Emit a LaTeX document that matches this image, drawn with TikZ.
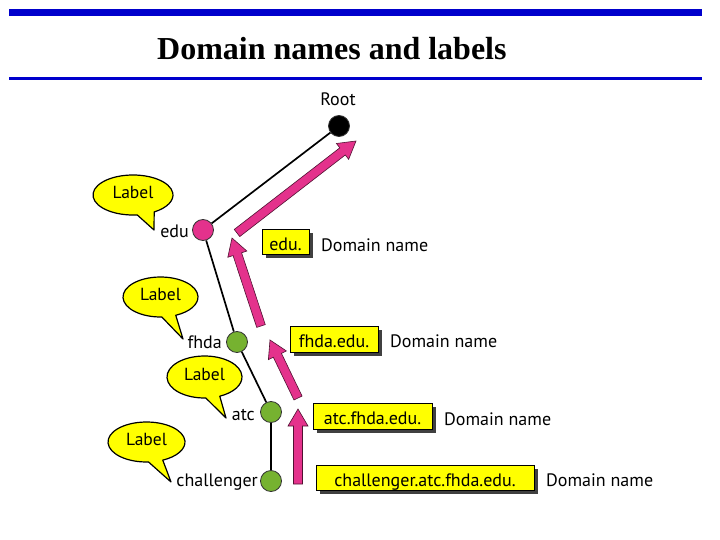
\documentclass[tikz,border=0pt]{standalone}
\usepackage{fontspec}
\setmainfont{Liberation Serif}
\newfontfamily\diagfont{PT Sans}
\usetikzlibrary{calc,shadows}
\definecolor{pinkc}{RGB}{228,50,140}
\definecolor{greenc}{RGB}{118,178,48}
\definecolor{yellowc}{RGB}{255,255,0}
\definecolor{bluebar}{RGB}{0,0,204}
\newcommand\blockarrow[2]{%
  \coordinate (hb) at ($(#2)!17pt!(#1)$);
  \fill[pinkc, draw=black!65!pinkc, line width=0.6pt, line join=miter]
    ($(#1)!4.5pt!90:(#2)$) -- ($(hb)!4.5pt!90:(#2)$) -- ($(hb)!10pt!90:(#2)$) -- (#2)
    -- ($(hb)!10pt!-90:(#2)$) -- ($(hb)!4.5pt!-90:(#2)$) -- ($(#1)!4.5pt!-90:(#2)$) -- cycle;}
\newcommand\labelcallout[7]{%
  \draw[calloutshape] ($#2+(#5:#3 and #4)$) arc[start angle=#5, end angle=#6+360, x radius=#3, y radius=#4] -- #7 -- cycle;
  \node[labeltext] (#1) at ($#2+(0,-3)$) {Label};}
\begin{document}
\begin{tikzpicture}[x=1pt,y=-1pt,
  dot/.style={circle, draw=black!80, line width=0.8pt, minimum size=21pt, inner sep=0pt},
  treeline/.style={black, line width=1.7pt},
  nm/.style={inner sep=0pt, font=\diagfont\fontsize{18}{20}\selectfont},
  boxst/.style={draw=black, fill=yellowc, line width=0.8pt, inner sep=0pt,
    text height=17pt, text depth=0pt,
    font=\diagfont\fontsize{18}{20}\selectfont,
    drop shadow={shadow xshift=3.5pt, shadow yshift=-3.5pt, fill=black!75, opacity=1}},
  calloutshape/.style={draw=black, fill=yellowc, line width=1.2pt, line join=round},
  labeltext/.style={inner sep=0pt, font=\diagfont\fontsize{17.5}{19}\selectfont}]
\useasboundingbox (0,0) rectangle (720,540);
\fill[white] (0,0) rectangle (720,540);
% header
\fill[bluebar] (9,9.3) rectangle (702,15.7);
\fill[bluebar] (9,76.7) rectangle (702,80);
\node[anchor=base west, inner sep=0pt, font=\bfseries\fontsize{32}{36}\selectfont] (title) at (157,60) {Domain names and labels};
% tree nodes
\node[dot, fill=black] (root) at (339,126) {};
\node[dot, fill=pinkc] (edu) at (203,230) {};
\node[dot, fill=greenc] (fhda) at (237,342) {};
\node[dot, fill=greenc] (atc) at (271,412) {};
\node[dot, fill=greenc] (chal) at (271,481) {};
\draw[treeline] (root) -- (edu);
\draw[treeline] (edu) -- (fhda);
\draw[treeline] (fhda) -- (atc);
\draw[treeline] (atc) -- (chal);
% node names
\node[nm] (roottxt) at (338,99) {Root};
\node[nm, anchor=east] (edutxt) at (189,231) {edu};
\node[nm, anchor=east] (fhdatxt) at (222,342) {fhda};
\node[nm, anchor=east] (atctxt) at (255,415) {atc};
\node[nm, anchor=east] (chaltxt) at (258,482) {challenger};
% callouts
\labelcallout{lab1}{(133,195)}{40}{20}{84}{58}{(154,230)}
\labelcallout{lab2}{(160.5,297)}{37.5}{20}{88}{66}{(183,339)}
\labelcallout{lab3}{(204.5,377)}{37.5}{21}{88}{66}{(226,418)}
\labelcallout{lab4}{(146.5,442)}{38.5}{20}{87}{65}{(171,482)}
% arrows
\coordinate (a1t) at (237,233); \coordinate (a1h) at (356,141);
\coordinate (a2t) at (261,326); \coordinate (a2h) at (232,238);
\coordinate (a3t) at (298,398); \coordinate (a3h) at (270,340);
\coordinate (a4t) at (298,484); \coordinate (a4h) at (298,409);
\blockarrow{a1t}{a1h}
\blockarrow{a2t}{a2h}
\blockarrow{a3t}{a3h}
\blockarrow{a4t}{a4h}
% domain name boxes
\node[boxst, minimum width=47pt, minimum height=25pt] (b1) at (285.5,241.5) {edu.};
\node[boxst, minimum width=88pt, minimum height=26pt] (b2) at (334,339) {fhda.edu.};
\node[boxst, minimum width=119pt, minimum height=26pt] (b3) at (372.5,416) {atc.fhda.edu.};
\node[boxst, minimum width=218pt, minimum height=25pt] (b4) at (425,477.5) {challenger.atc.fhda.edu.};
\node[nm, anchor=west] (d1) at (321,245) {Domain name};
\node[nm, anchor=west] (d2) at (390,341) {Domain name};
\node[nm, anchor=west] (d3) at (444,419) {Domain name};
\node[nm, anchor=west] (d4) at (546,480) {Domain name};
\end{tikzpicture}
\end{document}
